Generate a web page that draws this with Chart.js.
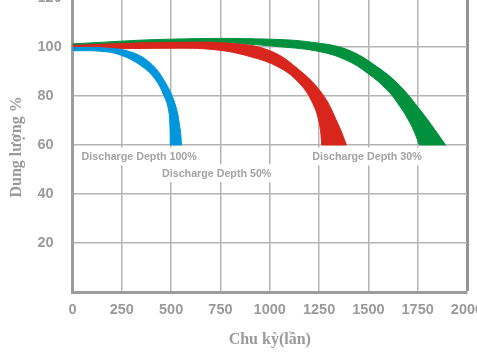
<!DOCTYPE html>
<html>
<head>
<meta charset="utf-8">
<script src="https://cdn.jsdelivr.net/npm/chart.js@4/dist/chart.umd.min.js"></script>
<style>
  html, body { margin: 0; padding: 0; width: 477px; height: 360px; overflow: hidden; background: #fff; }
  #wrap { position: absolute; left: 0; top: -20px; }
</style>
</head>
<body>
<div id="wrap"><canvas id="c" width="520" height="380"></canvas></div>
<script>
// Capacity (%) against cycle count; each discharge depth is a band between an upper and a lower edge
const blueUpperCycles = [0, 165, 292, 393, 469, 520, 545, 553];
const blueUpperCap    = [99.8, 99.5, 98.0, 93.5, 85.7, 76.7, 66.9, 60];
const blueLowerCycles = [0, 139, 241, 342, 418, 464, 487, 494.3, 495.3, 495.5, 553];
const blueLowerCap    = [98.4, 98.2, 96.7, 92.6, 86.9, 80.0, 74.3, 67.0, 60, 60, 60];

const redUpperCycles = [0, 241, 494, 799, 1001, 1153, 1270, 1346, 1389];
const redUpperCap    = [100.6, 101.3, 101.8, 101.4, 98.4, 90.3, 80.4, 68.6, 60];
const redLowerCycles = [0, 494, 722, 900, 1052, 1153, 1219, 1252, 1264, 1264.4, 1389];
const redLowerCap    = [98.8, 99.4, 98.8, 96.0, 91.4, 84.9, 76.8, 68.6, 60, 60, 60];

const greenUpperCycles = [0, 494, 1001, 1255, 1407, 1559, 1660, 1762, 1838, 1891];
const greenUpperCap    = [101.2, 103.1, 103.1, 101.4, 98.4, 91.0, 84.1, 74.3, 66.1, 60];
const greenLowerCycles = [0, 494, 799, 1052, 1255, 1392, 1498, 1594, 1660, 1711, 1741, 1758, 1758.5, 1891];
const greenLowerCap    = [100.6, 101.5, 101.4, 100.0, 98.0, 94.4, 89.1, 82.5, 75.7, 69.0, 63.7, 60, 60, 60];

const depthLabels = ['Discharge Depth 100%', 'Discharge Depth 50%', 'Discharge Depth 30%'];
const xTicks = [0, 250, 500, 750, 1000, 1250, 1500, 1750, 2000];
const yTicks = [0, 20, 40, 60, 80, 100, 120];

const BLUE = '#0096db', RED = '#d8261d', GREEN = '#00903e';
const GREY = '#9a9a9a';

const pts = (xs, ys) => xs.map((x, i) => ({ x, y: ys[i] }));

function edge(data, color, fill) {
  return {
    data,
    borderColor: color,
    backgroundColor: color,
    borderWidth: 1,
    pointRadius: 0,
    tension: 0.4,
    fill: fill
  };
}

// Depth labels sit on small white plates, anchored in data coordinates
const depthLabelPlugin = {
  id: 'depthLabels',
  afterDatasetsDraw(chart, args, opts) {
    const { ctx, scales: { x, y } } = chart;
    ctx.save();
    ctx.font = 'bold 10.7px "Liberation Sans", Arial, sans-serif';
    ctx.textAlign = 'center';
    ctx.textBaseline = 'middle';
    opts.anchors.forEach((a, i) => {
      const px = x.getPixelForValue(a[0]);
      const py = y.getPixelForValue(a[1]);
      const w = ctx.measureText(depthLabels[i]).width + 8;
      ctx.fillStyle = '#ffffff';
      ctx.fillRect(px - w / 2, py - 9, w, 18);
      ctx.fillStyle = '#a3a3a3';
      ctx.fillText(depthLabels[i], px, py + 0.5);
    });
    ctx.restore();
  }
};

// Vertical axis caption
const yCaptionPlugin = {
  id: 'yCaption',
  afterDraw(chart) {
    const { ctx, chartArea } = chart;
    ctx.save();
    ctx.translate(17, (chartArea.top + chartArea.bottom) / 2 + 2);
    ctx.rotate(-Math.PI / 2);
    ctx.textAlign = 'center';
    ctx.textBaseline = 'middle';
    ctx.fillStyle = GREY;
    ctx.font = 'bold 16px "Liberation Serif", "Times New Roman", serif';
    ctx.fillText('Dung lượng %', 0, 0);
    ctx.restore();
  }
};

new Chart(document.getElementById('c'), {
  type: 'line',
  data: {
    datasets: [
      edge(pts(blueLowerCycles, blueLowerCap), BLUE, false),
      edge(pts(blueUpperCycles, blueUpperCap), BLUE, '-1'),
      edge(pts(redLowerCycles, redLowerCap), RED, false),
      edge(pts(redUpperCycles, redUpperCap), RED, '-1'),
      edge(pts(greenLowerCycles, greenLowerCap), GREEN, false),
      edge(pts(greenUpperCycles, greenUpperCap), GREEN, '-1')
    ]
  },
  options: {
    responsive: false,
    animation: false,
    devicePixelRatio: 1,
    layout: { padding: { left: 37.5, top: 17.7, right: 53, bottom: 0 } },
    plugins: {
      legend: { display: false },
      tooltip: { enabled: false },
      depthLabels: { anchors: [[338, 55.3], [731, 48.5], [1493, 55.3]] }
    },
    scales: {
      x: {
        type: 'linear',
        min: xTicks[0],
        max: xTicks[xTicks.length - 1],
        afterBuildTicks: s => { s.ticks = xTicks.map(v => ({ value: v })); },
        afterFit: s => { s.height = 67.8; },
        ticks: {
          autoSkip: false,
          maxRotation: 0,
          padding: 9,
          color: GREY,
          callback: v => String(v),
          font: { family: '"Liberation Sans", Arial, sans-serif', size: 14.5, weight: 'bold' }
        },
        grid: {
          drawTicks: false,
          color: c => c.tick && c.tick.value === 2000 ? '#939393' : '#b3b3b3',
          lineWidth: c => c.tick && c.tick.value === 2000 ? 3 : 1.5
        },
        border: { display: true, color: '#9c9c9c', width: 3 },
        title: {
          display: true,
          text: 'Chu kỳ(lần)',
          color: GREY,
          padding: { top: 0, bottom: 10.4 },
          font: { family: '"Liberation Serif", "Times New Roman", serif', size: 16, weight: 'bold' }
        }
      },
      y: {
        type: 'linear',
        min: yTicks[0],
        max: yTicks[yTicks.length - 1],
        afterBuildTicks: s => { s.ticks = yTicks.map(v => ({ value: v })); },
        afterFit: s => { s.width = 35; },
        ticks: {
          crossAlign: 'far',
          color: GREY,
          callback: v => (v === 0 ? '' : String(v)),
          font: { family: '"Liberation Sans", Arial, sans-serif', size: 14.5, weight: 'bold' }
        },
        grid: {
          drawTicks: false,
          color: c => c.tick && c.tick.value === 120 ? '#939393' : '#b3b3b3',
          lineWidth: c => c.tick && c.tick.value === 120 ? 3 : 1.5
        },
        border: { display: true, color: '#9c9c9c', width: 3 }
      }
    }
  },
  plugins: [depthLabelPlugin, yCaptionPlugin]
});
</script>
</body>
</html>
